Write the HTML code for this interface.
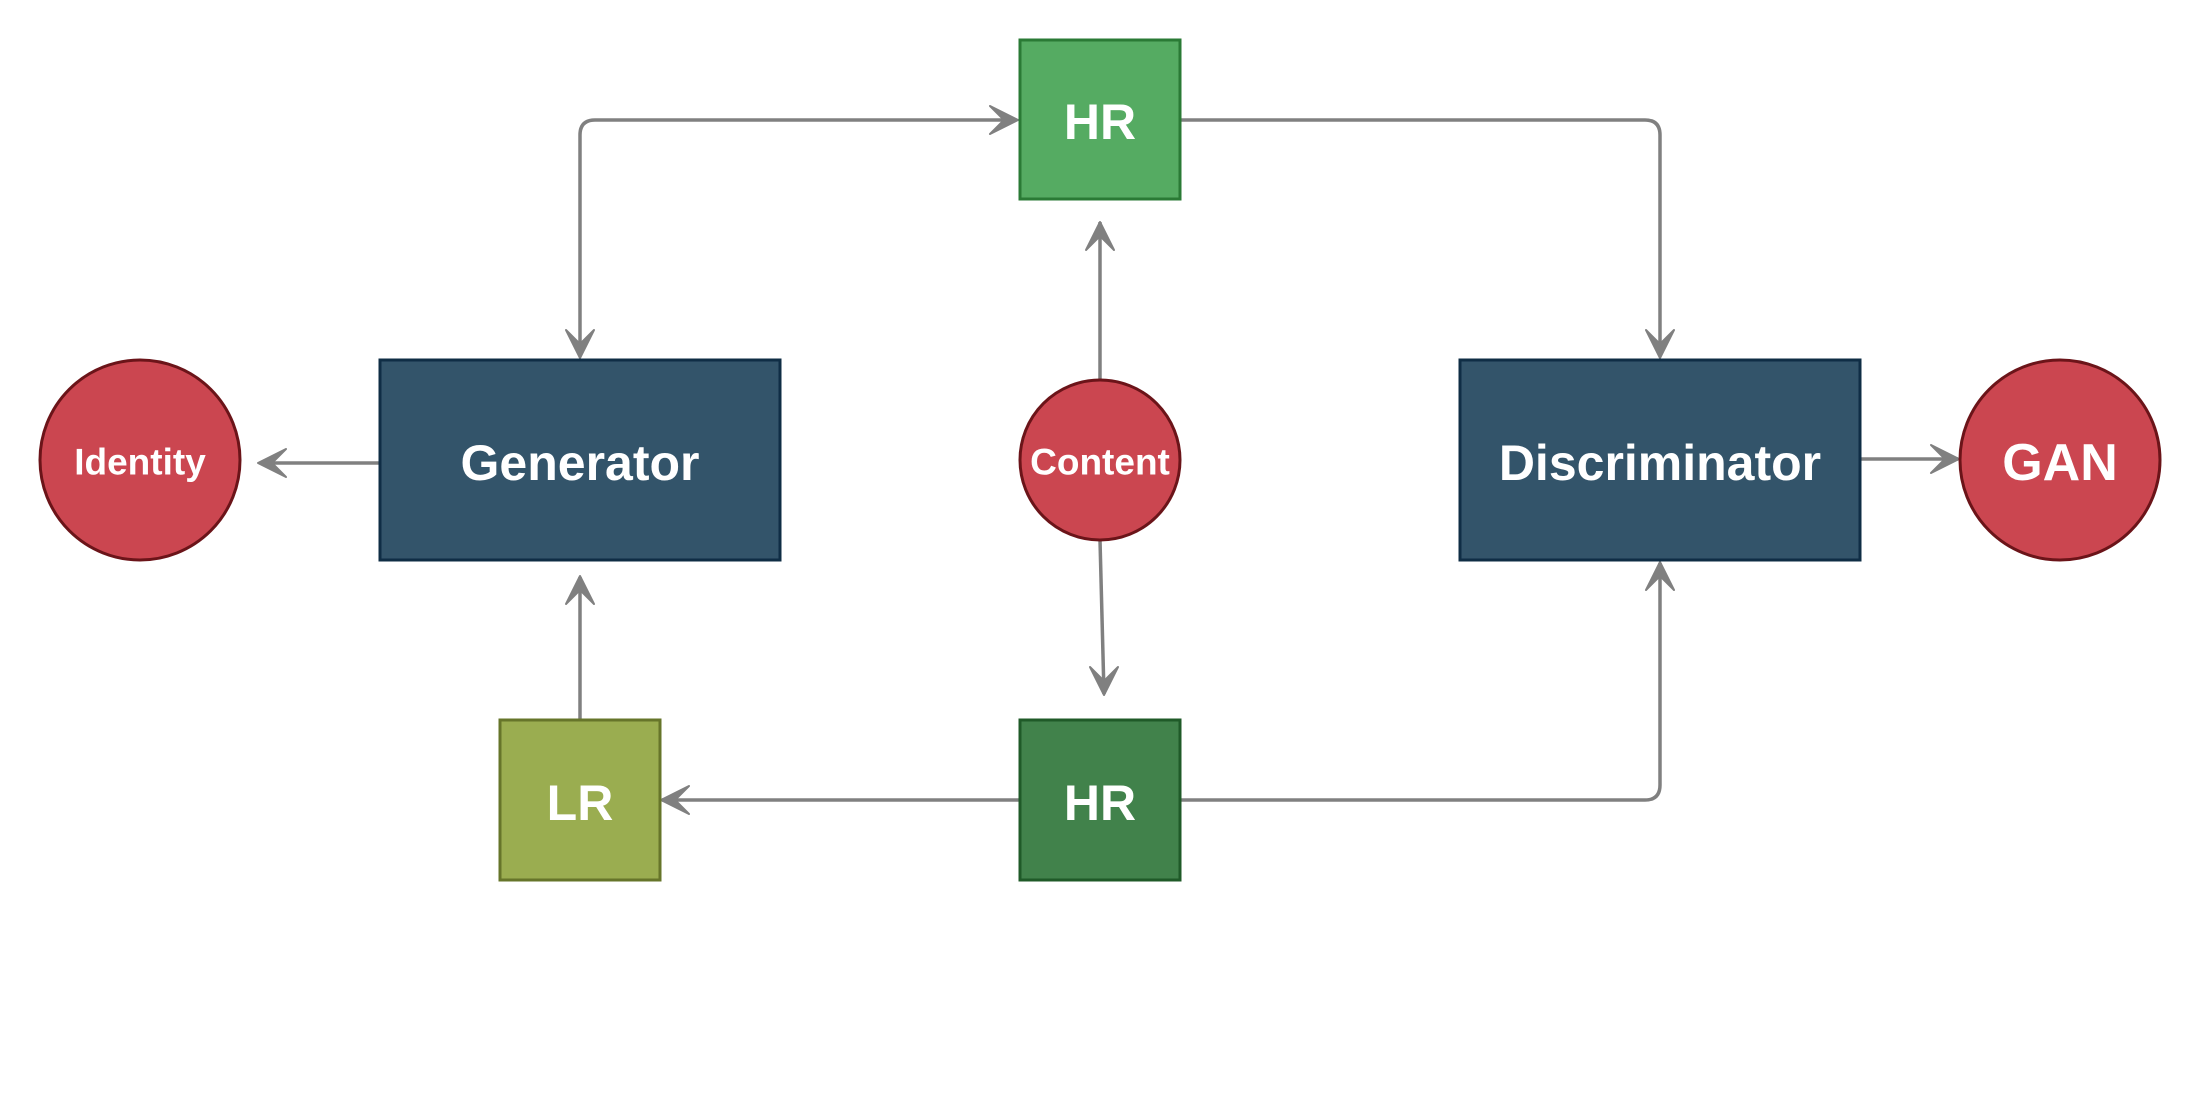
<!DOCTYPE html>
<html><head><meta charset="utf-8"><style>
html,body{margin:0;padding:0;background:#fff;width:2200px;height:1114px;overflow:hidden}
svg{display:block}
text{font-family:"Liberation Sans",sans-serif;font-weight:bold;fill:#fff;text-anchor:middle;dominant-baseline:central}
</style></head><body>
<svg width="2200" height="1114" viewBox="0 0 2200 1114" xmlns="http://www.w3.org/2000/svg">
<g fill="none" stroke="#808080" stroke-width="3.5">
<path d="M580 355 V135 Q580 120 595 120 H1016"/>
<path d="M1180 120 H1645 Q1660 120 1660 135 V356"/>
<path d="M1100 380 V222"/>
<path d="M1100 540 L1104 694"/>
<path d="M580 720 V577"/>
<path d="M379 463 H260"/>
<path d="M1019 800 H662"/>
<path d="M1180 800 H1645 Q1660 800 1660 785 V563"/>
<path d="M1860 459 H1958"/>
</g>
<g fill="#808080" stroke="#808080" stroke-width="2" stroke-linejoin="round">
<path d="M1018 120 L990 106 L1004 120 L990 134 Z"/>
<path d="M580 358 L566 330 L580 344 L594 330 Z"/>
<path d="M1660 358 L1646 330 L1660 344 L1674 330 Z"/>
<path d="M1100 222 L1086 250 L1100 236 L1114 250 Z"/>
<path d="M1104 695 L1090 667 L1104 681 L1118 667 Z"/>
<path d="M580 576 L566 604 L580 590 L594 604 Z"/>
<path d="M258 463 L286 449 L272 463 L286 477 Z"/>
<path d="M661 800 L689 786 L675 800 L689 814 Z"/>
<path d="M1660 562 L1646 590 L1660 576 L1674 590 Z"/>
<path d="M1959 459 L1931 445 L1945 459 L1931 473 Z"/>
</g>
<rect x="1020" y="40" width="160" height="159" fill="#55ab62" stroke="#2a7a35" stroke-width="3"/>
<text x="1100" y="122" font-size="50">HR</text>
<rect x="380" y="360" width="400" height="200" fill="#33546a" stroke="#0f2d45" stroke-width="3"/>
<text x="580" y="463" font-size="50">Generator</text>
<rect x="1460" y="360" width="400" height="200" fill="#33546a" stroke="#0f2d45" stroke-width="3"/>
<text x="1660" y="463" font-size="50">Discriminator</text>
<circle cx="140" cy="460" r="100" fill="#cb4650" stroke="#6b1419" stroke-width="3"/>
<text x="140" y="462" font-size="37">Identity</text>
<circle cx="1100" cy="460" r="80" fill="#cb4650" stroke="#6b1419" stroke-width="3"/>
<text x="1100" y="462" font-size="37">Content</text>
<circle cx="2060" cy="460" r="100" fill="#cb4650" stroke="#6b1419" stroke-width="3"/>
<text x="2060" y="463" font-size="52">GAN</text>
<rect x="500" y="720" width="160" height="160" fill="#9aad50" stroke="#66752a" stroke-width="3"/>
<text x="580" y="803" font-size="50">LR</text>
<rect x="1020" y="720" width="160" height="160" fill="#41824b" stroke="#1f5a28" stroke-width="3"/>
<text x="1100" y="803" font-size="50">HR</text>
</svg>
</body></html>
